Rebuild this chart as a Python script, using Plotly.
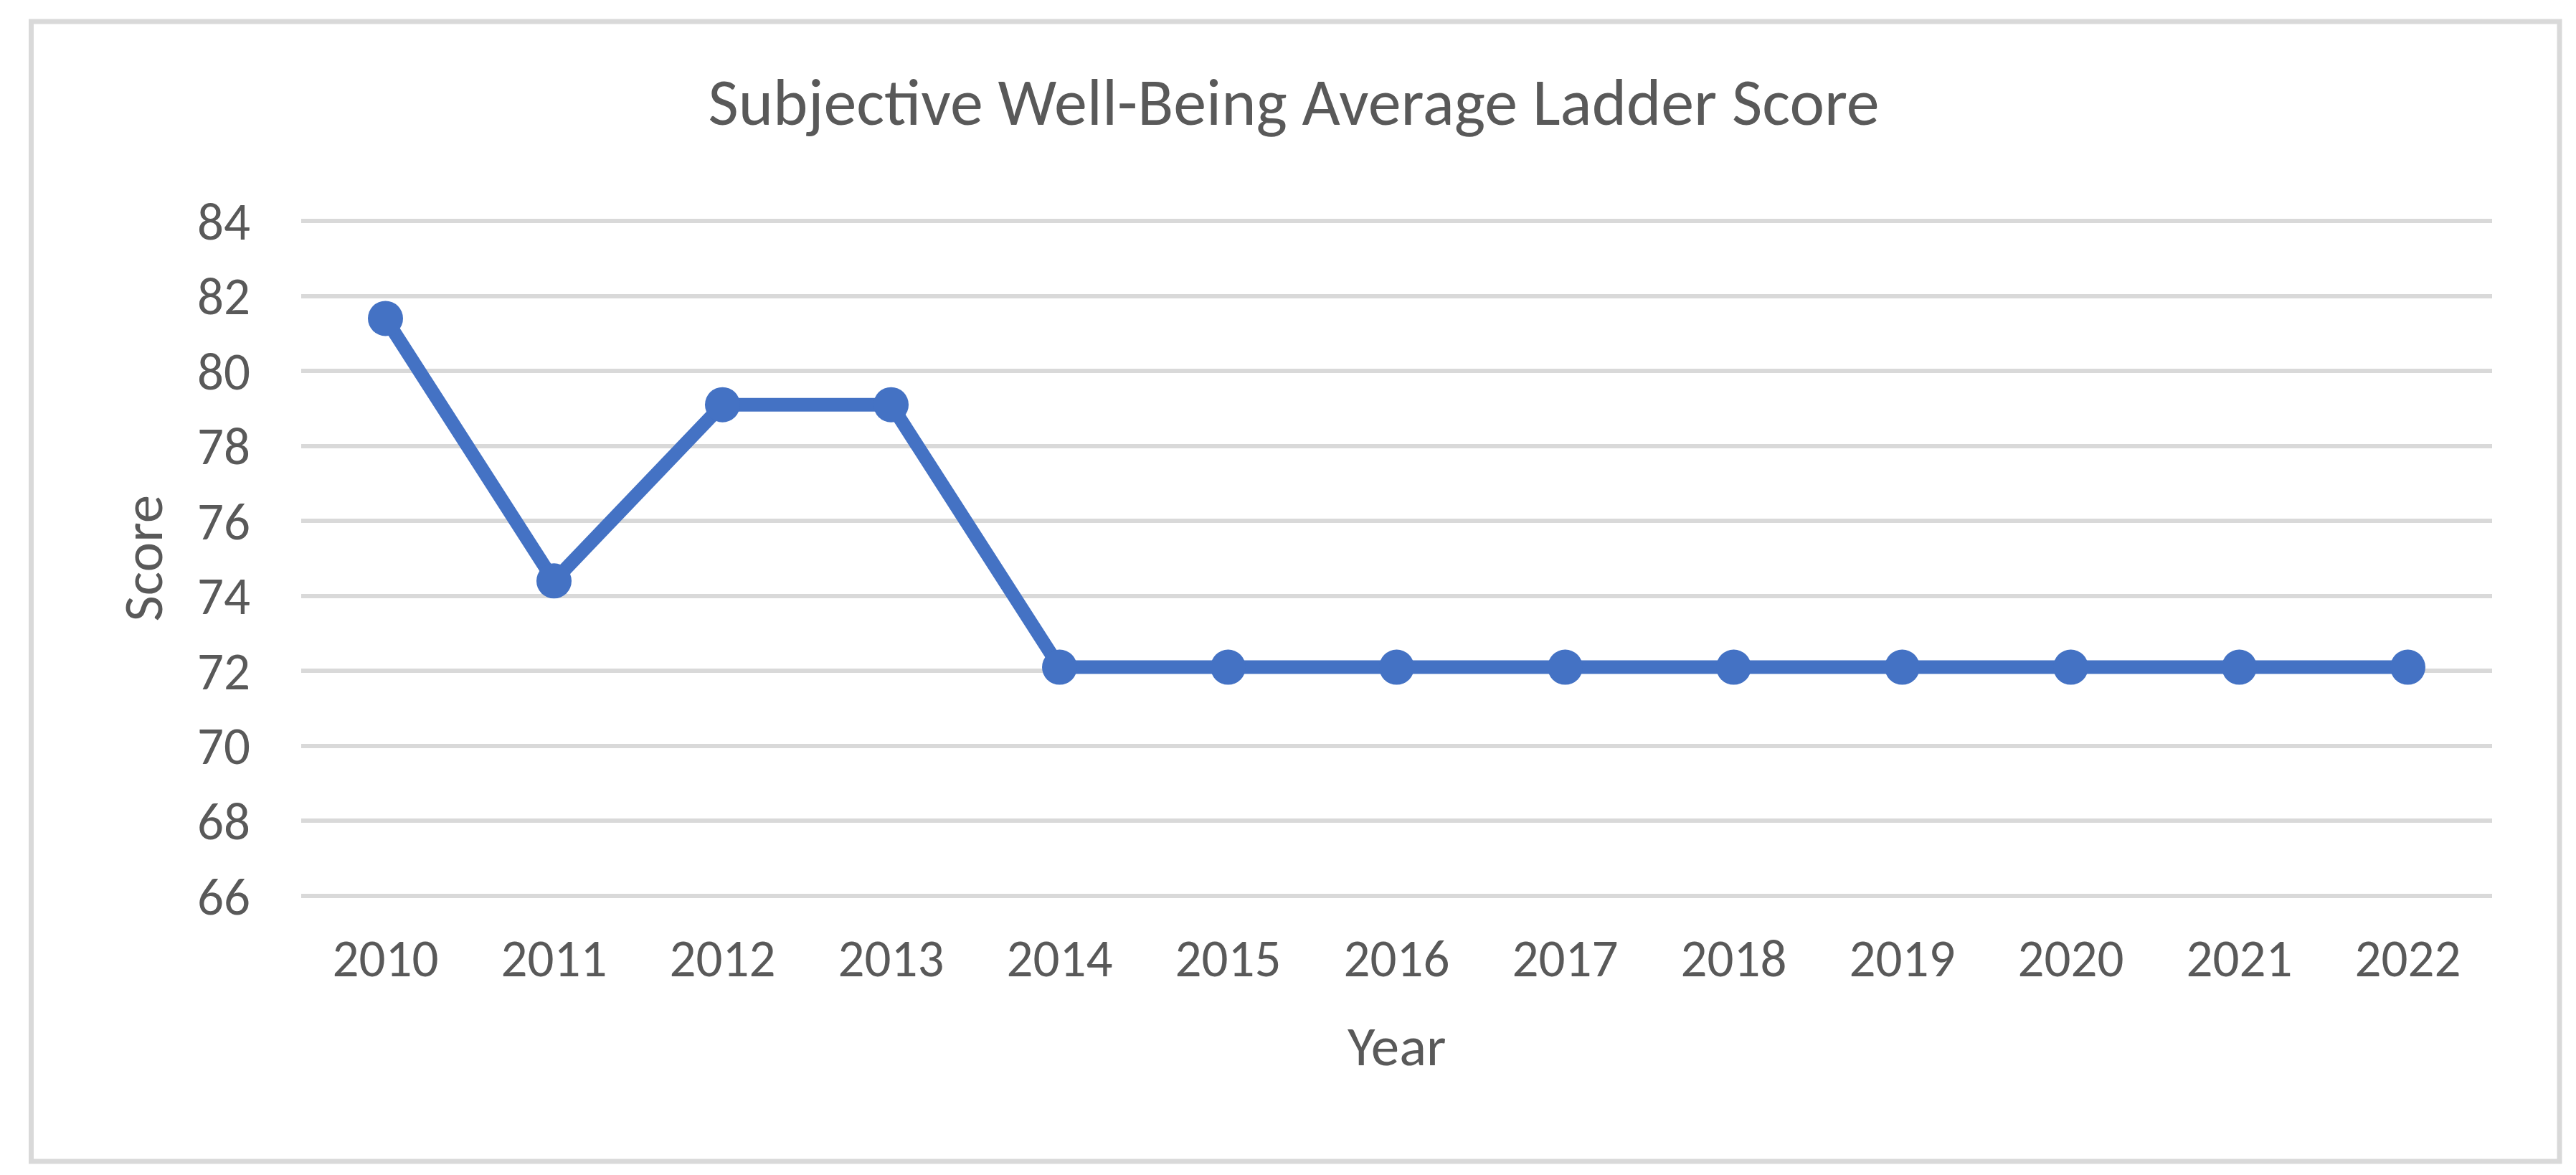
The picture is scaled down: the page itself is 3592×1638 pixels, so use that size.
import plotly.graph_objects as go

years = ["2010", "2011", "2012", "2013", "2014", "2015", "2016",
         "2017", "2018", "2019", "2020", "2021", "2022"]
scores = [81.4, 74.4, 79.1, 79.1, 72.1, 72.1, 72.1,
          72.1, 72.1, 72.1, 72.1, 72.1, 72.1]
y_ticks = [66, 68, 70, 72, 74, 76, 78, 80, 82, 84]

W, H = 3592, 1638
# plot area padded by 2px top and bottom so the edge gridlines (66, 84) are drawn
L, R, T, B = 412, 125, 298, 395
PW, PH = W - L - R, H - T - B
UNIT = (1241 - 300) / 18.0  # pixels per score unit
EPS = 2 / UNIT

FONT = "Carlito, Calibri, Lato, sans-serif"
TXT = "#595959"
BLUE = "#4472C4"
GRID = "#D9D9D9"

def px_x(p):
    return (p - L) / PW

def px_y(p):
    return (H - B - p) / PH

fig = go.Figure()
fig.add_trace(go.Scatter(
    x=years, y=scores, mode="lines+markers",
    line=dict(color=BLUE, width=19),
    marker=dict(color=BLUE, size=49),
    showlegend=False, cliponaxis=False,
))

fig.update_layout(
    width=W, height=H, autosize=False,
    margin=dict(l=L, r=R, t=T, b=B, pad=0),
    paper_bgcolor="white", plot_bgcolor="white",
    font=dict(family=FONT, color=TXT, size=73),
    title=dict(text="Subjective Well-Being Average Ladder Score",
               x=0.5, xref="container", xanchor="center",
               y=1 - 134 / H, yref="container", yanchor="middle",
               font=dict(family=FONT, size=92, color=TXT)),
    xaxis=dict(type="category", range=[-0.5, 12.5], showgrid=False,
               zeroline=False, showline=False, ticks="",
               tickfont=dict(size=73, color=TXT), ticklabelstandoff=36),
    yaxis=dict(range=[66 - EPS, 84 + EPS], tickvals=y_ticks, showgrid=True,
               gridcolor=GRID, gridwidth=6, zeroline=False, showline=False,
               ticks="", tickfont=dict(size=73, color=TXT),
               ticklabelstandoff=70),
    shapes=[dict(type="rect", xref="paper", yref="paper",
                 x0=px_x(35.5), x1=px_x(3561), y0=px_y(1611), y1=px_y(22),
                 line=dict(color=GRID, width=7), layer="below")],
    annotations=[
        dict(text="Year", xref="paper", yref="paper", x=0.5, y=px_y(1450),
             xanchor="center", yanchor="middle", showarrow=False,
             font=dict(family=FONT, size=79, color=TXT)),
        dict(text="Score", xref="paper", yref="paper", x=px_x(190), y=0.5,
             xanchor="center", yanchor="middle", showarrow=False, textangle=-90,
             font=dict(family=FONT, size=79, color=TXT)),
    ],
)

fig.write_html("out.html")
